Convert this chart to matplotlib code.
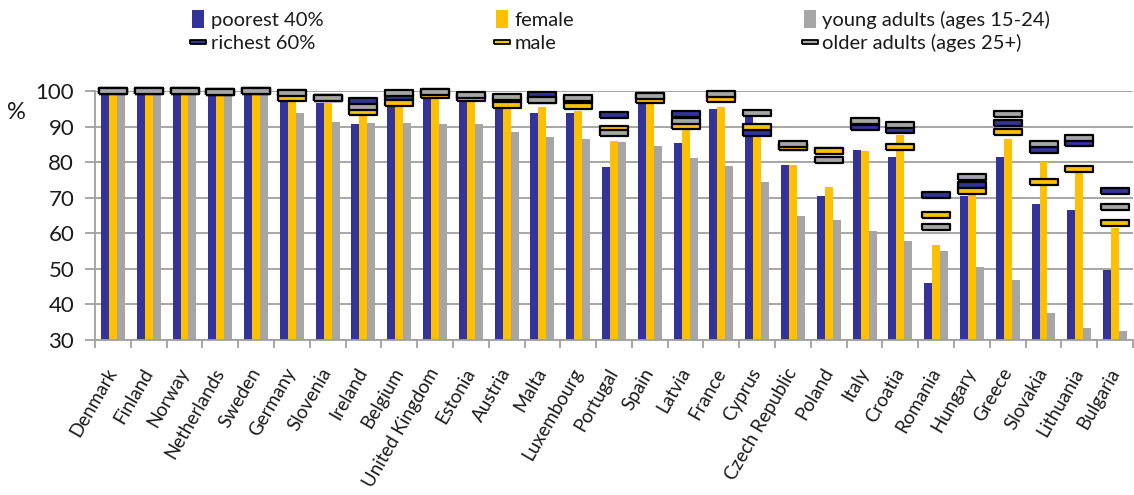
import numpy as np
import matplotlib
matplotlib.use("Agg")
import matplotlib.pyplot as plt
from matplotlib.patches import Patch
from matplotlib.lines import Line2D

# ─── data ────────────────────────────────────────────────────────────────────
countries = [
    "Denmark", "Finland", "Norway", "Netherlands", "Sweden", "Germany",
    "Slovenia", "Ireland", "Belgium", "United Kingdom", "Estonia", "Austria",
    "Malta", "Luxembourg", "Portugal", "Spain", "Latvia", "France", "Cyprus",
    "Czech Republic", "Poland", "Italy", "Croatia", "Romania", "Hungary",
    "Greece", "Slovakia", "Lithuania", "Bulgaria",
]
poorest = [99.5, 99.5, 99.5, 99.0, 99.5, 97.5, 96.5, 90.8, 96.0, 98.5, 97.0, 95.1,
           93.8, 93.7, 78.6, 96.7, 85.5, 94.9, 92.6, 79.1, 70.6, 83.3, 81.4, 45.9,
           70.6, 81.4, 68.1, 66.6, 49.8]
female = [99.5, 99.5, 99.5, 99.0, 99.5, 97.0, 96.5, 93.7, 96.0, 98.5, 97.0, 95.0,
          95.6, 94.5, 86.0, 96.7, 89.2, 95.4, 87.7, 79.2, 72.9, 83.2, 87.7, 56.7,
          71.0, 86.5, 79.9, 76.9, 61.5]
young = [99.5, 99.5, 99.5, 99.0, 99.5, 93.7, 91.4, 90.9, 90.9, 90.7, 90.6, 88.4,
         87.2, 86.4, 85.7, 84.6, 81.2, 78.8, 74.3, 64.8, 63.6, 60.6, 57.7, 55.0,
         50.6, 46.9, 37.5, 33.3, 32.4]
richest = [100.0, 100.0, 100.0, 99.6, 100.0, 99.3, 98.0, 97.3, 98.2, 99.7, 98.7, 97.6,
           98.8, 97.6, 93.3, 98.5, 93.5, 98.9, 88.3, 84.3, 83.0, 90.0, 89.1, 70.7,
           73.5, 91.1, 83.3, 85.4, 71.8]
male = [100.0, 100.0, 100.0, 99.6, 100.0, 98.0, 98.0, 94.2, 96.7, 98.9, 97.9, 96.1,
        97.5, 95.8, 89.3, 97.4, 90.2, 97.7, 90.0, 84.3, 83.2, 91.3, 84.2, 65.1,
        72.0, 88.4, 74.3, 78.0, 62.8]
older = [100.0, 100.0, 100.0, 99.6, 100.0, 99.3, 98.0, 95.4, 99.5, 99.8, 98.9, 98.2,
         97.5, 97.9, 88.1, 98.7, 91.7, 99.1, 93.8, 85.1, 80.5, 91.5, 90.5, 61.9,
         75.8, 93.5, 85.1, 86.9, 67.3]

BLUE, YELLOW, GREY = "#333399", "#FFC000", "#A6A6A6"
GRID = "#A0A0A0"

plt.rcParams["font.family"] = ["Lato", "DejaVu Sans"]

# flat dash marker (wide, short rectangle)
DASH = [(-1, -0.2), (1, -0.2), (1, 0.2), (-1, 0.2), (-1, -0.2)]

fig = plt.figure(figsize=(11.34, 4.95), dpi=100)
ax = fig.add_axes([0.0838, 0.3131, 0.9153, 0.5031])

x = np.arange(len(countries))
bw = 0.223
ax.bar(x - bw, poorest, bw, color=BLUE, zorder=2)
ax.bar(x, female, bw, color=YELLOW, zorder=2)
ax.bar(x + bw, young, bw, color=GREY, zorder=2)

for vals, col in [(richest, BLUE), (male, YELLOW), (older, GREY)]:
    ax.plot(x, vals, ls="none", marker=DASH, markersize=20.5,
            markerfacecolor=col, markeredgecolor="black", markeredgewidth=1.6,
            zorder=3, clip_on=False)

ax.set_xlim(-0.5, len(countries) - 0.5)
ax.set_ylim(30, 100)
ax.set_yticks(np.arange(30, 101, 10))
ax.yaxis.grid(True, color=GRID, lw=1.3, zorder=0)
ax.set_axisbelow(True)

ax.set_xticks(x)
ax.set_xticklabels(countries, rotation=60, ha="right", va="center",
                   rotation_mode="anchor", fontsize=13.5, color="#1a1a1a")
ax.set_xticks(np.arange(-0.5, len(countries), 1), minor=True)
ax.tick_params(axis="x", which="major", length=0, pad=21)
ax.tick_params(axis="x", which="minor", length=6, color=GRID, width=1.3)
ax.tick_params(axis="y", length=7, color=GRID, width=1.3, labelsize=16,
               labelcolor="#1a1a1a", pad=8)

for s in ["top", "right"]:
    ax.spines[s].set_visible(False)
for s in ["left", "bottom"]:
    ax.spines[s].set_color(GRID)
    ax.spines[s].set_linewidth(1.3)

fig.text(0.006, 0.76, "%", fontsize=17, color="#1a1a1a")

# legend: three columns, each with a bar entry above a marker entry
legend_cols = [
    (0.159, "poorest 40%", "richest 60%", BLUE),
    (0.427, "female", "male", YELLOW),
    (0.698, "young adults (ages 15-24)", "older adults (ages 25+)", GREY),
]
for xpos, bar_lbl, mk_lbl, col in legend_cols:
    handles = [
        Patch(facecolor=col, edgecolor="none", label=bar_lbl),
        Line2D([], [], ls="none", marker=DASH, markersize=12,
               markerfacecolor=col, markeredgecolor="black",
               markeredgewidth=1.3, label=mk_lbl),
    ]
    leg = fig.legend(handles=handles, loc="upper left",
                     bbox_to_anchor=(xpos, 1.005), frameon=False,
                     fontsize=14.5, handlelength=0.6, handleheight=1.0,
                     handletextpad=0.3, labelspacing=0.25, borderpad=0.1)
    for t in leg.get_texts():
        t.set_color("#1a1a1a")

fig.savefig("out.png", dpi=100, facecolor="white")
